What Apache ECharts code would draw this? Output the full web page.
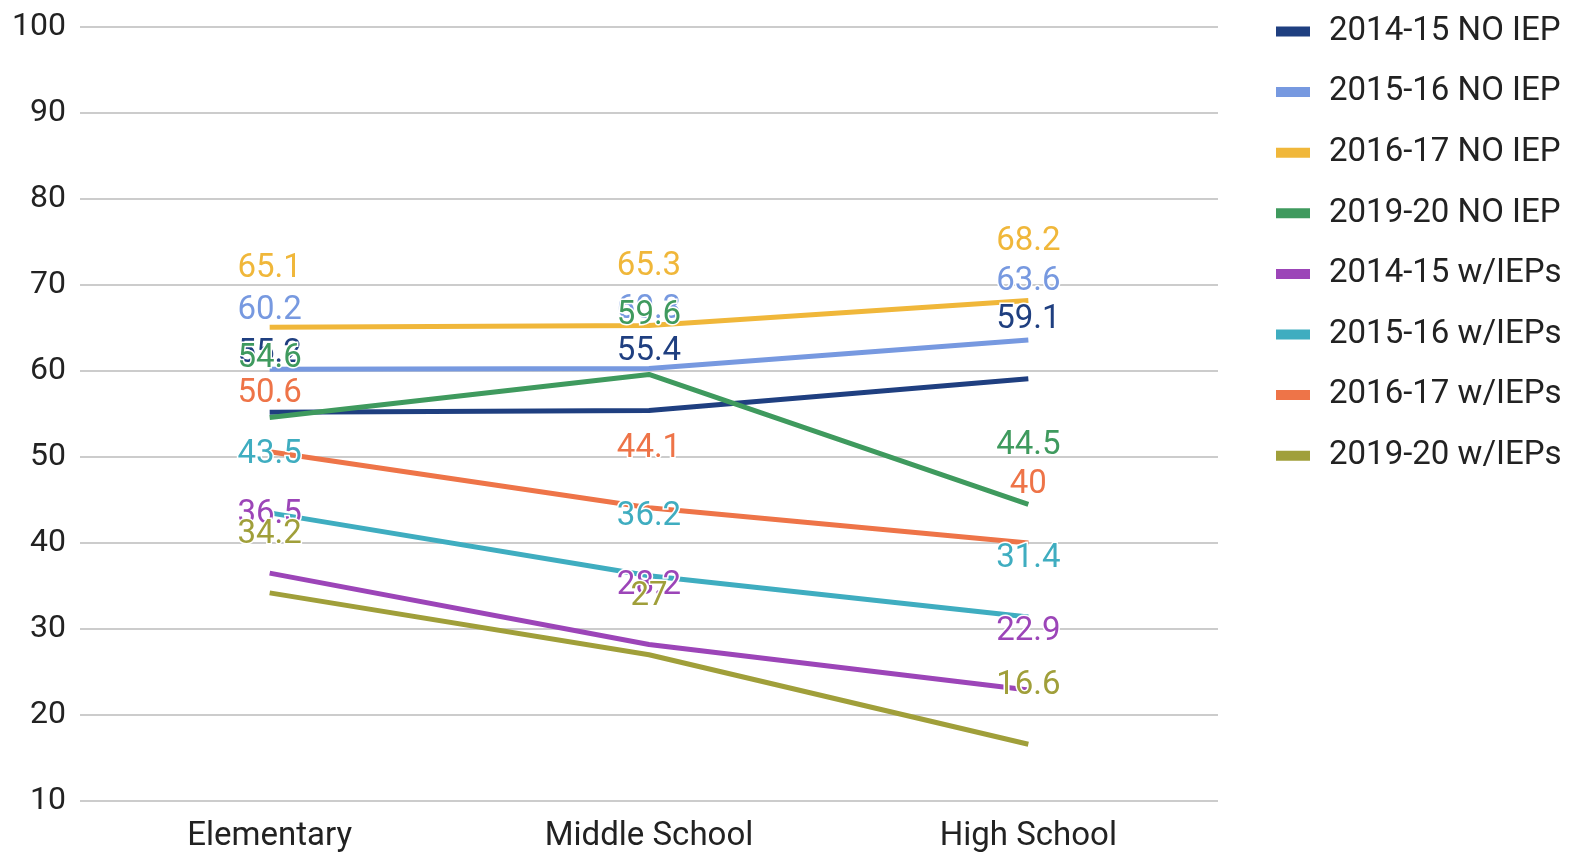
<!DOCTYPE html>
<html>
<head>
<meta charset="utf-8">
<script src="https://cdn.jsdelivr.net/npm/echarts@6/dist/echarts.min.js"></script>
<style>html,body{margin:0;padding:0;background:#fff}#c{width:1596px;height:867px}</style>
</head>
<body>
<div id="c"></div>
<script>
const categories = ['Elementary', 'Middle School', 'High School'];
const seriesNames = ['2014-15 NO IEP','2015-16 NO IEP','2016-17 NO IEP','2019-20 NO IEP','2014-15 w/IEPs','2015-16 w/IEPs','2016-17 w/IEPs','2019-20 w/IEPs'];
const noIep1415 = [55.2, 55.4, 59.1];
const noIep1516 = [60.2, 60.3, 63.6];
const noIep1617 = [65.1, 65.3, 68.2];
const noIep1920 = [54.6, 59.6, 44.5];
const iep1415 = [36.5, 28.2, 22.9];
const iep1516 = [43.5, 36.2, 31.4];
const iep1617 = [50.6, 44.1, 40];
const iep1920 = [34.2, 27, 16.6];
const yTicks = [10, 20, 30, 40, 50, 60, 70, 80, 90, 100];

const values = [noIep1415, noIep1516, noIep1617, noIep1920, iep1415, iep1516, iep1617, iep1920];
const colors = ['#1f3f80', '#7799e0', '#f0b73a', '#3f9a5e', '#9c45b8', '#3fadc0', '#ee7448', '#a09f3a'];
const FONT = 'Roboto';

const chart = echarts.init(document.getElementById('c'));
chart.setOption({
  animation: false,
  color: colors,
  textStyle: { fontFamily: FONT },
  grid: { left: 80, right: 378, top: 27, bottom: 66, containLabel: false },
  legend: {
    orient: 'vertical',
    left: 1276,
    top: 15,
    padding: 0,
    icon: 'rect',
    itemWidth: 34,
    itemHeight: 10,
    itemGap: 27.6,
    textStyle: { fontSize: 33, color: '#222', fontFamily: FONT, padding: [0, 0, 0, 14] },
    data: seriesNames.map((n, i) => ({ name: n, itemStyle: { color: colors[i], opacity: 1 } }))
  },
  xAxis: {
    type: 'category',
    data: categories,
    boundaryGap: true,
    axisLine: { show: false },
    axisTick: { show: false },
    axisLabel: { fontSize: 33, color: '#222', margin: 19, fontFamily: FONT }
  },
  yAxis: {
    type: 'value',
    min: yTicks[0],
    max: yTicks[yTicks.length - 1],
    interval: 10,
    axisLine: { show: false },
    axisTick: { show: false },
    axisLabel: { fontSize: 32, color: '#222', margin: 14, fontFamily: FONT },
    splitLine: { lineStyle: { color: '#cccccc', width: 2 } }
  },
  series: seriesNames.map((name, i) => ({
    name: name,
    type: 'line',
    data: values[i],
    symbol: 'circle',
    symbolSize: 0.1,
    showSymbol: true,
    itemStyle: { color: colors[i] },
    lineStyle: { width: 5, color: colors[i] },
    label: {
      show: true,
      position: 'top',
      distance: 42,
      fontSize: 33,
      color: colors[i],
      opacity: 1,
      fontFamily: FONT,
      textBorderColor: '#fff',
      textBorderWidth: 3
    },
    labelLayout: { hideOverlap: false }
  }))
});
</script>
</body>
</html>
